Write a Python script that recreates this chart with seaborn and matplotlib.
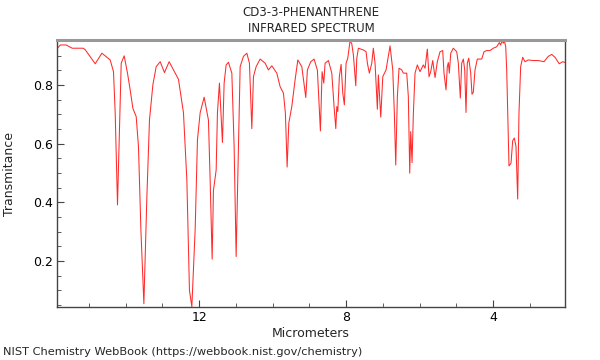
import matplotlib
matplotlib.use("Agg")
import matplotlib.pyplot as plt
from matplotlib.ticker import MultipleLocator
import seaborn as sns
import pandas as pd

title_lines = ["CD3-3-PHENANTHRENE", "INFRARED SPECTRUM"]
x_label = "Micrometers"
y_label = "Transmitance"
footer = "NIST Chemistry WebBook (https://webbook.nist.gov/chemistry)"

micrometers = [
    15.856, 15.782, 15.619, 15.456, 15.157, 15.102, 14.830, 14.648, 14.422, 14.332,
    14.286, 14.223, 14.169, 14.122, 14.041, 13.951, 13.878, 13.804, 13.714, 13.652,
    13.586, 13.505, 13.423, 13.352, 13.260, 13.170, 13.061, 12.944, 12.817, 12.699,
    12.563, 12.427, 12.335, 12.264, 12.199, 12.109, 12.046, 11.973, 11.864, 11.747,
    11.701, 11.646, 11.611, 11.537, 11.502, 11.448, 11.366, 11.320, 11.265, 11.203,
    11.110, 11.048, 10.993, 10.931, 10.884, 10.795, 10.702, 10.631, 10.566, 10.522,
    10.449, 10.340, 10.204, 10.114, 10.022, 9.886, 9.796, 9.706, 9.652, 9.605,
    9.559, 9.478, 9.388, 9.314, 9.205, 9.097, 9.053, 8.961, 8.871, 8.781,
    8.699, 8.653, 8.607, 8.571, 8.481, 8.389, 8.327, 8.280, 8.253, 8.226,
    8.183, 8.136, 8.090, 8.047, 8.000, 7.954, 7.891, 7.845, 7.801, 7.736,
    7.709, 7.665, 7.529, 7.456, 7.420, 7.366, 7.301, 7.258, 7.211, 7.148,
    7.121, 7.056, 7.001, 6.912, 6.803, 6.729, 6.686, 6.648, 6.604, 6.558,
    6.485, 6.441, 6.349, 6.305, 6.267, 6.240, 6.204, 6.169, 6.123, 6.060,
    5.987, 5.897, 5.850, 5.788, 5.742, 5.696, 5.641, 5.578, 5.516, 5.442,
    5.369, 5.334, 5.279, 5.244, 5.216, 5.189, 5.151, 5.080, 4.988, 4.944,
    4.890, 4.852, 4.808, 4.770, 4.735, 4.700, 4.661, 4.607, 4.572, 4.536,
    4.490, 4.427, 4.308, 4.245, 4.172, 4.082, 3.992, 3.900, 3.829, 3.791,
    3.755, 3.720, 3.692, 3.654, 3.627, 3.600, 3.565, 3.510, 3.464, 3.420,
    3.374, 3.328, 3.293, 3.247, 3.192, 3.129, 3.040, 2.904, 2.767, 2.612,
    2.498, 2.401, 2.313, 2.196, 2.102, 2.033,
]

transmittance = [
    0.925, 0.936, 0.936, 0.925, 0.925, 0.920, 0.872, 0.908, 0.885, 0.845,
    0.705, 0.391, 0.647, 0.874, 0.899, 0.840, 0.783, 0.720, 0.692, 0.590,
    0.306, 0.054, 0.420, 0.681, 0.800, 0.862, 0.879, 0.842, 0.879, 0.851,
    0.819, 0.705, 0.476, 0.100, 0.044, 0.306, 0.613, 0.705, 0.758, 0.680,
    0.476, 0.206, 0.440, 0.510, 0.705, 0.806, 0.604, 0.806, 0.868, 0.877,
    0.840, 0.590, 0.215, 0.590, 0.862, 0.897, 0.908, 0.874, 0.651, 0.828,
    0.862, 0.888, 0.874, 0.851, 0.865, 0.840, 0.794, 0.772, 0.704, 0.520,
    0.670, 0.726, 0.817, 0.885, 0.862, 0.757, 0.851, 0.879, 0.888, 0.850,
    0.643, 0.845, 0.806, 0.874, 0.883, 0.840, 0.726, 0.651, 0.726, 0.709,
    0.828, 0.870, 0.772, 0.732, 0.874, 0.891, 0.951, 0.940, 0.902, 0.797,
    0.890, 0.925, 0.919, 0.913, 0.874, 0.840, 0.874, 0.925, 0.874, 0.717,
    0.834, 0.690, 0.828, 0.851, 0.933, 0.851, 0.704, 0.527, 0.760, 0.857,
    0.851, 0.840, 0.840, 0.760, 0.499, 0.641, 0.535, 0.700, 0.840, 0.868,
    0.845, 0.868, 0.857, 0.922, 0.828, 0.845, 0.883, 0.825, 0.879, 0.913,
    0.917, 0.840, 0.783, 0.862, 0.876, 0.840, 0.908, 0.925, 0.913, 0.874,
    0.755, 0.874, 0.888, 0.851, 0.706, 0.874, 0.891, 0.840, 0.768, 0.775,
    0.851, 0.888, 0.888, 0.913, 0.917, 0.917, 0.925, 0.930, 0.944, 0.936,
    0.951, 0.942, 0.951, 0.930, 0.851, 0.704, 0.524, 0.533, 0.610, 0.619,
    0.590, 0.411, 0.704, 0.862, 0.894, 0.879, 0.885, 0.883, 0.883, 0.879,
    0.897, 0.904, 0.894, 0.872, 0.879, 0.876,
]

x_major_ticks = [12, 8, 4]
y_major_ticks = [0.2, 0.4, 0.6, 0.8]

sns.set_style("ticks")
plt.rcParams["font.family"] = ["DejaVu Sans"]

df = pd.DataFrame({"um": micrometers, "T": transmittance})

fig = plt.figure(figsize=(6, 3.6), dpi=100)
ax = fig.add_axes([57 / 600, 1 - 307 / 360, (565 - 57) / 600, (307 - 40) / 360])

sns.lineplot(data=df, x="um", y="T", sort=False, estimator=None,
             color="#ff2a2a", linewidth=0.75, ax=ax)

ax.set_xlim(15.87, 2.04)
ax.set_ylim(0.043, 0.953)
ax.set_xticks(x_major_ticks)
ax.set_yticks(y_major_ticks)
ax.xaxis.set_minor_locator(MultipleLocator(1))
ax.yaxis.set_minor_locator(MultipleLocator(0.05))
ax.tick_params(axis="both", which="major", direction="in", length=5, width=0.8,
               labelsize=9, colors="#444444", labelcolor="black", pad=3)
ax.tick_params(axis="both", which="minor", direction="in", length=3, width=0.6,
               colors="#444444")

ax.set_xlabel(x_label, fontsize=9, labelpad=2)
ax.set_ylabel(y_label, fontsize=9, labelpad=12)

for side in ["left", "bottom", "right"]:
    ax.spines[side].set_color("#444444")
    ax.spines[side].set_linewidth(1.0)
    ax.spines[side].set_visible(True)
ax.spines["top"].set_visible(True)
ax.spines["top"].set_color("#999999")
ax.spines["top"].set_linewidth(2.2)

fig.text(311 / 600, 1 - 13 / 360, title_lines[0], ha="center", va="center", fontsize=8.5)
fig.text(311 / 600, 1 - 29 / 360, title_lines[1], ha="center", va="center", fontsize=8.5)
fig.text(3 / 600, 1 - 352 / 360, footer, ha="left", va="center", fontsize=8.2)

fig.savefig("out.png", dpi=100)
